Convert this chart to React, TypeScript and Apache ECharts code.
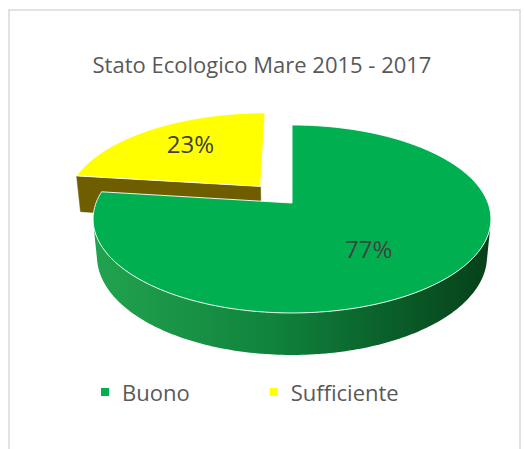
import React, { useEffect, useRef } from 'react';
import * as echarts from 'echarts';

const TITLE = 'Stato Ecologico Mare 2015 - 2017';
const CATEGORIES = ['Buono', 'Sufficiente'];
const VALUES = [77, 23];
const COLORS = ['#00b050', '#ffff00'];

// 3D projection parameters (style / geometry only)
const CX = 292;
const CY = 203;
const FOCAL = 1020;
const DIST = 5.204;
const TILT = (27.75 * Math.PI) / 180;
const THICK = 0.218;
const FONT = 'Open Sans';

const SIN_T = Math.sin(TILT);
const COS_T = Math.cos(TILT);
const CAM = [0, DIST * SIN_T, -DIST * COS_T];

function proj(X: number, H: number, Z: number): number[] {
  const yc = -Z * SIN_T - H * COS_T;
  const d = Z * COS_T - H * SIN_T;
  const s = FOCAL / (DIST + d);
  return [CX + X * s, CY + yc * s];
}

type SliceStyle = {
  explode: number;
  sideFill: any;
  faceFill: string;
  labelR: number;
  labelDy: number;
};

function makeRender(idx: number, st: SliceStyle) {
  return (params: any, api: any) => {
    const total = VALUES.reduce((a, b) => a + b, 0);
    const v = api.value(0);
    const before = VALUES.slice(0, idx).reduce((a, b) => a + b, 0);
    const a0 = (before / total) * 2 * Math.PI;
    const a1 = a0 + (v / total) * 2 * Math.PI;
    const mid = (a0 + a1) / 2;
    const ox = st.explode * Math.sin(mid);
    const oz = st.explode * Math.cos(mid);

    const n = Math.max(8, Math.ceil(((a1 - a0) * 180) / Math.PI));
    const angles: number[] = [];
    for (let i = 0; i <= n; i++) angles.push(a0 + ((a1 - a0) * i) / n);

    const rimTop = (t: number) => proj(ox + Math.sin(t), 0, oz + Math.cos(t));
    const rimBot = (t: number) => proj(ox + Math.sin(t), -THICK, oz + Math.cos(t));
    const apexTop = proj(ox, 0, oz);
    const apexBot = proj(ox, -THICK, oz);

    const children: any[] = [];

    // radial faces
    const radial = (t: number, nx: number, nz: number) => {
      const px = ox + 0.5 * Math.sin(t);
      const pz = oz + 0.5 * Math.cos(t);
      const dot = nx * (CAM[0] - px) + nz * (CAM[2] - pz);
      if (dot > 0.3) {
        children.push({
          type: 'polygon',
          shape: { points: [apexTop, rimTop(t), rimBot(t), apexBot] },
          style: { fill: st.sideFill, stroke: st.sideFill, lineWidth: 0.5 },
        });
      }
    };
    radial(a0, -Math.cos(a0), Math.sin(a0));
    radial(a1, Math.cos(a1), -Math.sin(a1));

    // outer curved side, visible runs
    const vis = (t: number) =>
      -Math.sin(t) * ox - Math.cos(t) * (DIST * COS_T + oz) - 1 > 0;
    let run: number[] = [];
    const flush = () => {
      if (run.length >= 2) {
        const pts = run.map(rimTop).concat(run.slice().reverse().map(rimBot));
        children.push({
          type: 'polygon',
          shape: { points: pts },
          style: { fill: st.sideFill },
        });
      }
      run = [];
    };
    angles.forEach((t) => {
      if (vis(t)) run.push(t);
      else flush();
    });
    flush();

    // top face
    const topPts = [apexTop].concat(angles.map(rimTop));
    children.push({
      type: 'polygon',
      shape: { points: topPts },
      style: { fill: st.faceFill, stroke: 'rgba(255,255,255,0.9)', lineWidth: 1 },
    });

    // label
    const lr = st.labelR + st.explode;
    const lp = proj(lr * Math.sin(mid), 0, lr * Math.cos(mid));
    children.push({
      type: 'text',
      x: lp[0],
      y: lp[1] + st.labelDy,
      style: {
        text: Math.round((v / total) * 100) + '%',
        fontSize: 24,
        fontFamily: FONT,
        fill: '#404040',
        align: 'center',
        verticalAlign: 'middle',
      },
    });

    return { type: 'group', children };
  };
}

const STYLES: SliceStyle[] = [
  {
    explode: 0,
    sideFill: {
      type: 'linear',
      x: 0,
      y: 0,
      x2: 1,
      y2: 0,
      colorStops: [
        { offset: 0, color: '#22a34f' },
        { offset: 0.45, color: '#10833d' },
        { offset: 1, color: '#064019' },
      ],
    },
    faceFill: COLORS[0],
    labelR: 0.55,
    labelDy: 5,
  },
  {
    explode: 0.25,
    sideFill: '#6e5e00',
    faceFill: COLORS[1],
    labelR: 0.62,
    labelDy: -6,
  },
];

export default function App() {
  const ref = useRef<HTMLDivElement>(null);
  useEffect(() => {
    document.body.style.margin = '0';
    if (!ref.current) return;
    const chart = echarts.init(ref.current, undefined, { renderer: 'svg' });
    chart.setOption({
      animation: false,
      backgroundColor: '#ffffff',
      title: {
        text: TITLE,
        left: 'center',
        top: 48,
        textStyle: {
          fontFamily: FONT,
          fontSize: 22,
          fontWeight: 'normal',
          color: '#595959',
        },
      },
      legend: {
        left: 101,
        top: 381,
        padding: 0,
        icon: 'rect',
        itemWidth: 8,
        itemHeight: 8,
        itemGap: 80,
        data: CATEGORIES,
        textStyle: {
          fontFamily: FONT,
          fontSize: 22,
          color: '#595959',
          padding: [0, 0, 0, 8],
        },
      },
      graphic: [
        {
          type: 'rect',
          silent: true,
          z: -10,
          shape: { x: 9, y: 10, width: 511, height: 470 },
          style: { fill: 'none', stroke: '#d9d9d9', lineWidth: 1.5 },
        },
      ],
      series: CATEGORIES.map((name, i) => ({
        type: 'custom',
        name,
        coordinateSystem: 'none',
        z: i === 0 ? 3 : 2,
        itemStyle: { color: COLORS[i] },
        data: [{ name, value: [VALUES[i]] }],
        renderItem: makeRender(i, STYLES[i]),
      })),
    });
    return () => chart.dispose();
  }, []);
  return <div ref={ref} style={{ width: 524, height: 449 }} />;
}
